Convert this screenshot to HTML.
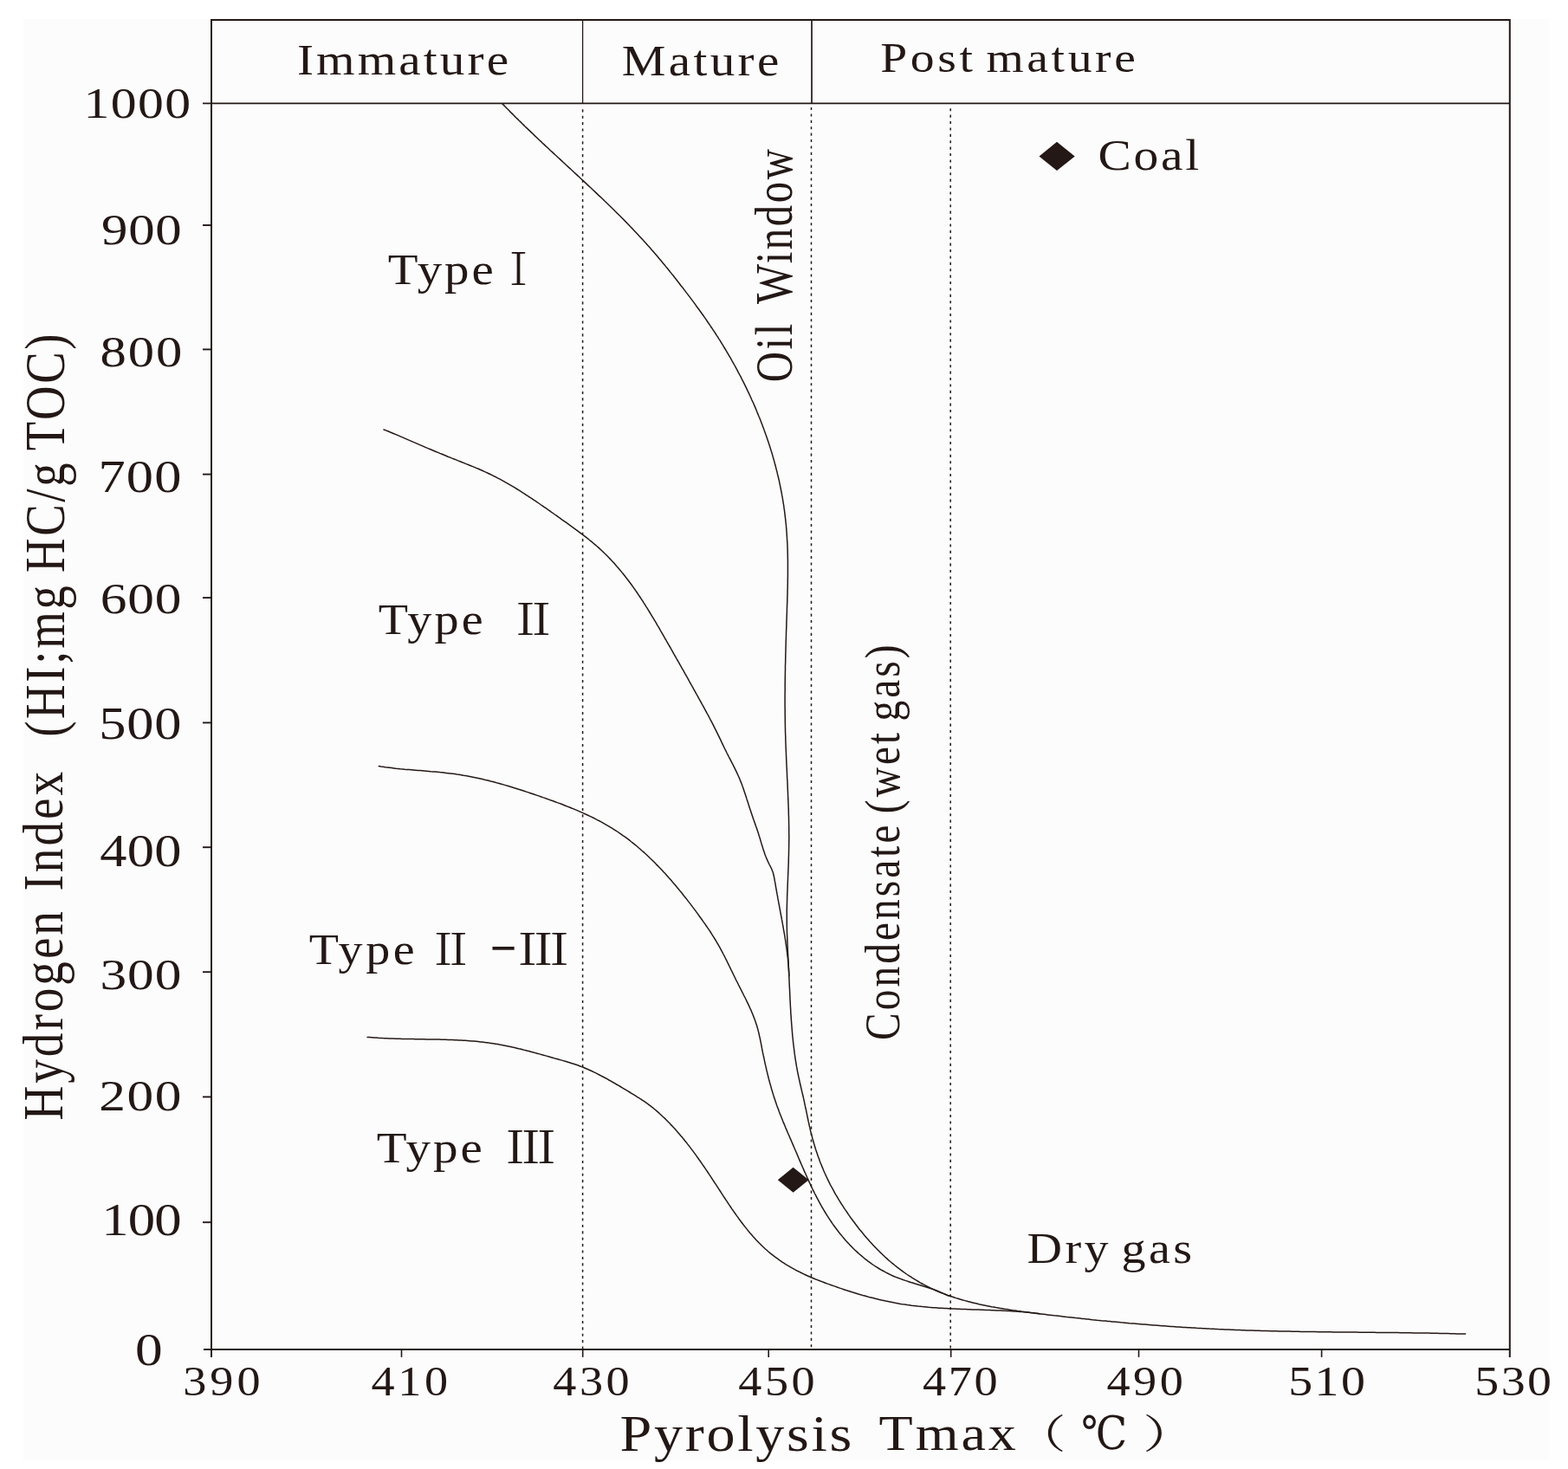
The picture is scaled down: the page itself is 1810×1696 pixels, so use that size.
<!DOCTYPE html>
<html><head><meta charset="utf-8"><title>Hydrogen Index vs Pyrolysis Tmax</title><style>html,body{margin:0;padding:0;background:#fff;overflow:hidden}svg{display:block}</style></head><body>
<svg width="1810" height="1696" viewBox="0 0 1810 1696"><rect x="0" y="0" width="1810" height="1696" fill="#ffffff"/>
<rect x="27" y="22" width="1761" height="1664" fill="#fcfcfc"/>
<rect x="1788" y="22" width="22" height="1664" fill="#fefefe"/>
<g stroke="#231815" fill="none"><path d="M244.0,23.0 H1742.8 V1566.9" stroke-width="2" fill="none"/><line x1="244.0" y1="22.0" x2="244.0" y2="1566.9" stroke-width="2"/><line x1="234.0" y1="119.4" x2="1742.8" y2="119.4" stroke-width="1.9"/><line x1="235.0" y1="1557.9" x2="1742.8" y2="1557.9" stroke-width="2"/><line x1="672.6" y1="23.0" x2="672.6" y2="119.4" stroke-width="1.3"/><line x1="937.0" y1="23.0" x2="937.0" y2="119.4" stroke-width="1.7"/><line x1="234.0" y1="260.0" x2="244.0" y2="260.0" stroke-width="1.9"/><line x1="234.0" y1="403.4" x2="244.0" y2="403.4" stroke-width="1.9"/><line x1="234.0" y1="547.6" x2="244.0" y2="547.6" stroke-width="1.9"/><line x1="234.0" y1="690.1" x2="244.0" y2="690.1" stroke-width="1.9"/><line x1="234.0" y1="834.4" x2="244.0" y2="834.4" stroke-width="1.9"/><line x1="234.0" y1="978.2" x2="244.0" y2="978.2" stroke-width="1.9"/><line x1="234.0" y1="1122.2" x2="244.0" y2="1122.2" stroke-width="1.9"/><line x1="234.0" y1="1266.4" x2="244.0" y2="1266.4" stroke-width="1.9"/><line x1="234.0" y1="1411.2" x2="244.0" y2="1411.2" stroke-width="1.9"/><line x1="463.5" y1="1557.9" x2="463.5" y2="1566.9" stroke-width="1.6"/><line x1="672.7" y1="1557.9" x2="672.7" y2="1566.9" stroke-width="1.6"/><line x1="887.2" y1="1557.9" x2="887.2" y2="1566.9" stroke-width="1.6"/><line x1="1097.7" y1="1557.9" x2="1097.7" y2="1566.9" stroke-width="1.6"/><line x1="1314.5" y1="1557.9" x2="1314.5" y2="1566.9" stroke-width="1.6"/><line x1="1525.6" y1="1557.9" x2="1525.6" y2="1566.9" stroke-width="1.6"/><line x1="672.6" y1="126.3" x2="672.6" y2="1556.9" stroke-width="1.5" stroke-dasharray="3.1 4.3"/><line x1="936.5" y1="124.0" x2="936.5" y2="1556.9" stroke-width="1.5" stroke-dasharray="3.1 4.3"/><line x1="1097.2" y1="125.2" x2="1097.2" y2="1556.9" stroke-width="1.5" stroke-dasharray="3.1 4.3"/></g>
<g stroke="#231815" stroke-width="1.5" fill="none" stroke-linejoin="round" stroke-linecap="round"><path d="M579.7,119.7 L581.5,121.4 L583.3,123.2 L585.0,125.0 L586.8,126.8 L588.5,128.6 L590.3,130.4 L592.1,132.1 L593.8,133.9 L595.6,135.7 L597.4,137.4 L599.2,139.2 L601.0,140.9 L602.8,142.7 L604.5,144.4 L606.3,146.2 L608.1,147.9 L609.9,149.6 L611.8,151.4 L613.6,153.1 L615.4,154.8 L617.2,156.6 L619.0,158.3 L620.8,160.0 L622.6,161.7 L624.5,163.4 L626.3,165.2 L628.1,166.9 L629.9,168.6 L631.8,170.3 L633.6,172.0 L635.4,173.7 L637.3,175.4 L639.1,177.1 L640.9,178.8 L642.8,180.5 L644.6,182.2 L646.5,183.9 L648.3,185.6 L650.1,187.3 L652.0,189.0 L653.8,190.7 L655.6,192.4 L657.5,194.1 L659.3,195.8 L661.2,197.5 L663.0,199.2 L664.8,200.9 L666.7,202.6 L668.5,204.3 L670.3,206.0 L672.2,207.7 L674.0,209.4 L675.8,211.1 L677.7,212.9 L679.5,214.6 L681.3,216.3 L683.2,218.0 L685.0,219.7 L686.8,221.4 L688.6,223.1 L690.4,224.9 L692.3,226.6 L694.1,228.3 L695.9,230.0 L697.7,231.8 L699.5,233.5 L701.3,235.2 L703.1,237.0 L704.9,238.7 L706.7,240.5 L708.5,242.2 L710.2,244.0 L712.0,245.7 L713.8,247.5 L715.6,249.3 L717.3,251.0 L719.1,252.8 L720.9,254.6 L722.6,256.4 L724.4,258.2 L726.1,260.0 L727.8,261.8 L729.6,263.6 L731.3,265.4 L733.0,267.2 L734.7,269.0 L736.4,270.8 L738.1,272.7 L739.8,274.5 L741.5,276.3 L743.2,278.2 L744.9,280.0 L746.6,281.9 L748.2,283.8 L749.9,285.6 L751.5,287.5 L753.2,289.4 L754.8,291.3 L756.5,293.2 L758.1,295.1 L759.7,297.0 L761.3,298.9 L762.9,300.8 L764.5,302.8 L766.1,304.7 L767.7,306.6 L769.3,308.6 L770.9,310.5 L772.5,312.5 L774.0,314.4 L775.6,316.4 L777.2,318.3 L778.7,320.3 L780.3,322.3 L781.8,324.2 L783.4,326.2 L784.9,328.2 L786.4,330.2 L788.0,332.1 L789.5,334.1 L791.0,336.1 L792.5,338.1 L794.1,340.1 L795.6,342.1 L797.1,344.1 L798.6,346.1 L800.1,348.1 L801.6,350.1 L803.0,352.1 L804.5,354.2 L806.0,356.2 L807.5,358.2 L808.9,360.2 L810.4,362.3 L811.8,364.3 L813.3,366.4 L814.7,368.4 L816.1,370.5 L817.5,372.5 L818.9,374.6 L820.3,376.7 L821.7,378.7 L823.1,380.8 L824.5,382.9 L825.9,385.0 L827.2,387.1 L828.6,389.2 L829.9,391.3 L831.3,393.4 L832.6,395.6 L833.9,397.7 L835.2,399.8 L836.5,402.0 L837.8,404.1 L839.1,406.3 L840.3,408.4 L841.6,410.6 L842.9,412.7 L844.1,414.9 L845.3,417.1 L846.6,419.3 L847.8,421.5 L849.0,423.7 L850.2,425.9 L851.4,428.1 L852.5,430.3 L853.7,432.5 L854.9,434.7 L856.0,436.9 L857.1,439.2 L858.3,441.4 L859.4,443.6 L860.5,445.9 L861.6,448.1 L862.7,450.4 L863.7,452.7 L864.8,454.9 L865.9,457.2 L866.9,459.5 L867.9,461.8 L869.0,464.0 L870.0,466.3 L871.0,468.6 L872.0,470.9 L873.0,473.2 L873.9,475.6 L874.9,477.9 L875.8,480.2 L876.8,482.5 L877.7,484.8 L878.6,487.2 L879.5,489.5 L880.4,491.9 L881.3,494.2 L882.1,496.6 L883.0,498.9 L883.8,501.3 L884.7,503.7 L885.5,506.0 L886.3,508.4 L887.1,510.8 L887.9,513.2 L888.6,515.6 L889.4,517.9 L890.1,520.3 L890.9,522.7 L891.6,525.1 L892.3,527.6 L893.0,530.0 L893.7,532.4 L894.3,534.8 L895.0,537.2 L895.6,539.6 L896.2,542.1 L896.9,544.5 L897.4,546.9 L898.0,549.4 L898.6,551.8 L899.2,554.2 L899.7,556.7 L900.2,559.1 L900.7,561.6 L901.2,564.0 L901.7,566.5 L902.2,568.9 L902.6,571.4 L903.1,573.9 L903.5,576.3 L903.9,578.8 L904.3,581.3 L904.7,583.7 L905.0,586.2 L905.4,588.7 L905.7,591.1 L906.0,593.6 L906.3,596.1 L906.6,598.6 L906.9,601.1 L907.1,603.5 L907.4,606.0 L907.6,608.5 L907.8,611.0 L908.0,613.5 L908.2,616.0 L908.3,618.5 L908.5,621.0 L908.6,623.5 L908.8,626.0 L908.9,628.5 L909.0,631.0 L909.1,633.5 L909.2,636.0 L909.2,638.5 L909.3,641.0 L909.3,643.5 L909.4,646.0 L909.4,648.5 L909.4,651.0 L909.4,653.5 L909.4,656.0 L909.4,658.5 L909.4,661.0 L909.4,663.5 L909.4,666.0 L909.3,668.5 L909.3,671.0 L909.3,673.5 L909.2,676.0 L909.2,678.5 L909.1,681.1 L909.0,683.6 L909.0,686.1 L908.9,688.6 L908.8,691.1 L908.8,693.6 L908.7,696.1 L908.6,698.6 L908.5,701.1 L908.4,703.6 L908.4,706.2 L908.3,708.7 L908.2,711.2 L908.1,713.7 L908.0,716.2 L907.9,718.7 L907.9,721.2 L907.8,723.7 L907.7,726.2 L907.6,728.7 L907.5,731.2 L907.5,733.7 L907.4,736.2 L907.3,738.7 L907.2,741.3 L907.2,743.8 L907.1,746.3 L907.0,748.8 L907.0,751.3 L906.9,753.8 L906.8,756.3 L906.8,758.8 L906.7,761.3 L906.7,763.8 L906.6,766.3 L906.5,768.8 L906.5,771.3 L906.5,773.8 L906.4,776.3 L906.4,778.8 L906.3,781.3 L906.3,783.8 L906.3,786.3 L906.2,788.8 L906.2,791.3 L906.2,793.8 L906.2,796.3 L906.2,798.8 L906.1,801.3 L906.1,803.8 L906.1,806.3 L906.1,808.8 L906.1,811.3 L906.1,813.8 L906.1,816.3 L906.2,818.8 L906.2,821.3 L906.2,823.8 L906.2,826.3 L906.3,828.8 L906.3,831.3 L906.3,833.8 L906.4,836.3 L906.4,838.8 L906.5,841.3 L906.5,843.8 L906.6,846.3 L906.7,848.8 L906.8,851.3 L906.8,853.8 L906.9,856.3 L907.0,858.8 L907.1,861.3 L907.2,863.8 L907.3,866.3 L907.4,868.8 L907.5,871.3 L907.6,873.8 L907.7,876.3 L907.8,878.8 L907.9,881.3 L908.0,883.8 L908.2,886.3 L908.3,888.8 L908.4,891.4 L908.5,893.9 L908.6,896.4 L908.7,898.9 L908.9,901.4 L909.0,903.9 L909.1,906.4 L909.2,908.9 L909.3,911.4 L909.4,913.9 L909.5,916.4 L909.6,918.9 L909.7,921.4 L909.8,923.9 L909.9,926.4 L910.0,928.9 L910.1,931.4 L910.2,933.9 L910.3,936.4 L910.3,938.9 L910.4,941.4 L910.5,943.9 L910.5,946.4 L910.6,948.9 L910.6,951.5 L910.7,954.0 L910.7,956.5 L910.7,959.0 L910.7,961.5 L910.8,964.0 L910.8,966.5 L910.8,969.0 L910.7,971.5 L910.7,974.0 L910.7,976.5 L910.6,979.0 L910.6,981.5 L910.5,984.0 L910.5,986.5 L910.4,989.0 L910.3,991.5 L910.3,994.0 L910.2,996.5 L910.1,999.0 L910.0,1001.5 L909.9,1004.0 L909.8,1006.5 L909.7,1009.0 L909.6,1011.5 L909.5,1014.0 L909.4,1016.5 L909.3,1019.0 L909.2,1021.5 L909.1,1024.0 L909.0,1026.5 L908.9,1029.0 L908.8,1031.5 L908.7,1034.0 L908.6,1036.5 L908.6,1039.0 L908.5,1041.5 L908.4,1044.0 L908.4,1046.5 L908.3,1049.0 L908.3,1051.5 L908.3,1054.0 L908.3,1056.5 L908.3,1059.0 L908.3,1061.5 L908.3,1064.0 L908.3,1066.5 L908.3,1069.0 L908.4,1071.5 L908.4,1074.0 L908.5,1076.5 L908.6,1079.0 L908.7,1081.5 L908.8,1084.0 L908.9,1086.5 L909.0,1089.0 L909.1,1091.5 L909.2,1094.0 L909.3,1096.5 L909.4,1099.0 L909.6,1101.5 L909.7,1104.0 L909.8,1106.5 L910.0,1109.0 L910.1,1111.5 L910.2,1114.0 L910.3,1116.5 L910.4,1119.0 L910.6,1121.5 L910.7,1124.0 L910.8,1126.6 L910.9,1129.1 L911.0,1131.6 L911.1,1134.1 L911.2,1136.6 L911.3,1139.1 L911.5,1141.6 L911.6,1144.1 L911.7,1146.6 L911.8,1149.1 L911.9,1151.6 L912.0,1154.1 L912.2,1156.6 L912.3,1159.1 L912.4,1161.6 L912.6,1164.1 L912.7,1166.6 L912.8,1169.1 L913.0,1171.6 L913.2,1174.1 L913.3,1176.6 L913.5,1179.1 L913.7,1181.6 L913.9,1184.1 L914.1,1186.6 L914.3,1189.1 L914.5,1191.6 L914.7,1194.1 L914.9,1196.5 L915.2,1199.0 L915.4,1201.5 L915.7,1204.0 L916.0,1206.5 L916.3,1209.0 L916.6,1211.4 L916.9,1213.9 L917.2,1216.4 L917.6,1218.9 L917.9,1221.3 L918.3,1223.8 L918.7,1226.3 L919.1,1228.7 L919.5,1231.2 L920.0,1233.6 L920.4,1236.1 L920.9,1238.6 L921.4,1241.0 L921.9,1243.5 L922.5,1245.9 L923.0,1248.3 L923.5,1250.8 L924.1,1253.2 L924.7,1255.7 L925.2,1258.1 L925.8,1260.6 L926.4,1263.0 L927.0,1265.5 L927.5,1267.9 L928.1,1270.4 L928.6,1272.8 L929.1,1275.3 L929.6,1277.7 L930.2,1280.2 L930.7,1282.6 L931.2,1285.1 L931.7,1287.6 L932.2,1290.0 L932.7,1292.5 L933.2,1294.9 L933.8,1297.4 L934.3,1299.8 L934.9,1302.3 L935.4,1304.7 L936.0,1307.1 L936.6,1309.6 L937.3,1312.0 L937.9,1314.4 L938.6,1316.8 L939.3,1319.2 L940.0,1321.6 L940.7,1324.0 L941.4,1326.4 L942.2,1328.7 L943.0,1331.1 L943.8,1333.4 L944.6,1335.8 L945.5,1338.1 L946.3,1340.5 L947.2,1342.8 L948.2,1345.1 L949.1,1347.4 L950.1,1349.7 L951.0,1352.0 L952.0,1354.3 L953.1,1356.6 L954.1,1358.8 L955.2,1361.1 L956.3,1363.3 L957.4,1365.6 L958.5,1367.8 L959.7,1370.0 L960.9,1372.2 L962.1,1374.4 L963.3,1376.6 L964.5,1378.8 L965.8,1380.9 L967.1,1383.1 L968.4,1385.3 L969.7,1387.4 L971.0,1389.5 L972.4,1391.6 L973.8,1393.8 L975.1,1395.9 L976.6,1397.9 L978.0,1400.0 L979.4,1402.1 L980.8,1404.1 L982.3,1406.2 L983.8,1408.2 L985.3,1410.2 L986.8,1412.2 L988.3,1414.2 L989.8,1416.2 L991.3,1418.2 L992.9,1420.2 L994.5,1422.1 L996.1,1424.0 L997.7,1426.0 L999.3,1427.9 L1000.9,1429.8 L1002.5,1431.6 L1004.2,1433.5 L1005.9,1435.3 L1007.6,1437.2 L1009.3,1439.0 L1011.0,1440.8 L1012.7,1442.6 L1014.5,1444.3 L1016.3,1446.1 L1018.1,1447.8 L1019.9,1449.5 L1021.7,1451.2 L1023.6,1452.9 L1025.4,1454.6 L1027.3,1456.2 L1029.2,1457.8 L1031.2,1459.4 L1033.1,1461.0 L1035.1,1462.6 L1037.1,1464.1 L1039.1,1465.6 L1041.1,1467.1 L1043.1,1468.6 L1045.1,1470.0 L1047.2,1471.5 L1049.3,1472.9 L1051.4,1474.2 L1053.5,1475.6 L1055.6,1476.9 L1057.8,1478.2 L1059.9,1479.5 L1062.1,1480.8 L1064.3,1482.0 L1066.5,1483.2 L1068.7,1484.4 L1070.9,1485.5 L1073.2,1486.6 L1075.4,1487.7 L1077.7,1488.8 L1080.0,1489.8 L1082.3,1490.8 L1084.6,1491.8 L1086.9,1492.7 L1089.2,1493.6 L1091.6,1494.5 L1093.9,1495.4 L1096.3,1496.2 L1098.7,1497.0 L1101.1,1497.8 L1103.4,1498.6 L1105.8,1499.3 L1108.2,1500.0 L1110.6,1500.7 L1113.0,1501.4 L1115.5,1502.1 L1117.9,1502.7 L1120.3,1503.3 L1122.7,1503.9 L1125.2,1504.5 L1127.6,1505.1 L1130.0,1505.7 L1132.5,1506.2 L1134.9,1506.7 L1137.4,1507.2 L1139.8,1507.7 L1142.3,1508.2 L1144.7,1508.7 L1147.2,1509.1 L1149.6,1509.6 L1152.1,1510.0 L1154.6,1510.4 L1157.0,1510.8 L1159.5,1511.3 L1162.0,1511.6 L1164.4,1512.0 L1166.9,1512.4 L1169.4,1512.8 L1171.9,1513.1 L1174.3,1513.5 L1176.8,1513.8 L1179.3,1514.2 L1181.8,1514.5 L1184.3,1514.8 L1186.8,1515.1 L1189.2,1515.5 L1191.7,1515.8 L1194.2,1516.1 L1196.7,1516.4 L1199.2,1516.7 L1201.7,1517.0 L1204.2,1517.3 L1206.7,1517.6 L1209.1,1517.9 L1211.6,1518.2 L1214.1,1518.5 L1216.6,1518.8 L1219.1,1519.0 L1221.6,1519.3 L1224.1,1519.6 L1226.6,1519.9 L1229.1,1520.2 L1231.5,1520.5 L1234.0,1520.7 L1236.5,1521.0 L1239.0,1521.3 L1241.5,1521.6 L1244.0,1521.8 L1246.5,1522.1 L1249.0,1522.4 L1251.5,1522.6 L1254.0,1522.9 L1256.5,1523.1 L1258.9,1523.4 L1261.4,1523.7 L1263.9,1523.9 L1266.4,1524.2 L1268.9,1524.4 L1271.4,1524.7 L1273.9,1524.9 L1276.4,1525.1 L1278.9,1525.4 L1281.4,1525.6 L1283.9,1525.9 L1286.4,1526.1 L1288.9,1526.3 L1291.3,1526.5 L1293.8,1526.8 L1296.3,1527.0 L1298.8,1527.2 L1301.3,1527.4 L1303.8,1527.7 L1306.3,1527.9 L1308.8,1528.1 L1311.3,1528.3 L1313.8,1528.5 L1316.3,1528.7 L1318.8,1528.9 L1321.3,1529.1 L1323.8,1529.3 L1326.3,1529.5 L1328.8,1529.7 L1331.3,1529.9 L1333.8,1530.1 L1336.3,1530.3 L1338.8,1530.5 L1341.2,1530.7 L1343.7,1530.8 L1346.2,1531.0 L1348.7,1531.2 L1351.2,1531.4 L1353.7,1531.5 L1356.2,1531.7 L1358.7,1531.9 L1361.2,1532.0 L1363.7,1532.2 L1366.2,1532.4 L1368.7,1532.5 L1371.2,1532.7 L1373.7,1532.8 L1376.2,1533.0 L1378.7,1533.1 L1381.2,1533.3 L1383.7,1533.4 L1386.2,1533.5 L1388.7,1533.7 L1391.2,1533.8 L1393.7,1533.9 L1396.2,1534.1 L1398.7,1534.2 L1401.2,1534.3 L1403.7,1534.4 L1406.2,1534.6 L1408.7,1534.7 L1411.2,1534.8 L1413.7,1534.9 L1416.2,1535.0 L1418.7,1535.1 L1421.2,1535.2 L1423.7,1535.3 L1426.2,1535.4 L1428.7,1535.5 L1431.2,1535.6 L1433.7,1535.7 L1436.2,1535.8 L1438.7,1535.9 L1441.2,1535.9 L1443.7,1536.0 L1446.2,1536.1 L1448.7,1536.2 L1451.2,1536.3 L1453.7,1536.3 L1456.2,1536.4 L1458.7,1536.5 L1461.2,1536.5 L1463.7,1536.6 L1466.3,1536.7 L1468.8,1536.7 L1471.3,1536.8 L1473.8,1536.8 L1476.3,1536.9 L1478.8,1536.9 L1481.3,1537.0 L1483.8,1537.0 L1486.3,1537.1 L1488.8,1537.1 L1491.3,1537.2 L1493.8,1537.2 L1496.3,1537.3 L1498.8,1537.3 L1501.3,1537.4 L1503.8,1537.4 L1506.3,1537.4 L1508.8,1537.5 L1511.3,1537.5 L1513.8,1537.6 L1516.3,1537.6 L1518.8,1537.6 L1521.3,1537.7 L1523.8,1537.7 L1526.3,1537.7 L1528.9,1537.7 L1531.4,1537.8 L1533.9,1537.8 L1536.4,1537.8 L1538.9,1537.9 L1541.4,1537.9 L1543.9,1537.9 L1546.4,1537.9 L1548.9,1538.0 L1551.4,1538.0 L1553.9,1538.0 L1556.4,1538.0 L1558.9,1538.1 L1561.4,1538.1 L1563.9,1538.1 L1566.4,1538.1 L1568.9,1538.2 L1571.4,1538.2 L1573.9,1538.2 L1576.4,1538.2 L1578.9,1538.3 L1581.5,1538.3 L1584.0,1538.3 L1586.5,1538.3 L1589.0,1538.4 L1591.5,1538.4 L1594.0,1538.4 L1596.5,1538.4 L1599.0,1538.5 L1601.5,1538.5 L1604.0,1538.5 L1606.5,1538.5 L1609.0,1538.6 L1611.5,1538.6 L1614.0,1538.6 L1616.5,1538.7 L1619.0,1538.7 L1621.5,1538.7 L1624.0,1538.8 L1626.5,1538.8 L1629.0,1538.8 L1631.5,1538.9 L1634.0,1538.9 L1636.5,1538.9 L1639.0,1539.0 L1641.6,1539.0 L1644.1,1539.1 L1646.6,1539.1 L1649.1,1539.1 L1651.6,1539.2 L1654.1,1539.2 L1656.6,1539.3 L1659.1,1539.3 L1661.6,1539.4 L1664.1,1539.4 L1666.6,1539.5 L1669.1,1539.5 L1671.6,1539.6 L1674.1,1539.7 L1676.6,1539.7 L1679.1,1539.8 L1681.6,1539.9 L1684.1,1539.9 L1686.6,1540.0 L1689.1,1540.1 L1691.6,1540.1"/><path d="M443.0,496.0 L445.3,496.9 L447.7,497.8 L450.0,498.8 L452.3,499.7 L454.7,500.7 L457.0,501.6 L459.3,502.6 L461.6,503.6 L463.9,504.6 L466.2,505.6 L468.5,506.6 L470.8,507.6 L473.1,508.6 L475.4,509.6 L477.7,510.6 L480.1,511.6 L482.4,512.6 L484.7,513.6 L487.0,514.6 L489.3,515.6 L491.6,516.6 L493.9,517.6 L496.2,518.5 L498.5,519.5 L500.9,520.5 L503.2,521.5 L505.5,522.4 L507.8,523.4 L510.1,524.3 L512.5,525.3 L514.8,526.2 L517.1,527.2 L519.5,528.1 L521.8,529.1 L524.1,530.0 L526.5,530.9 L528.8,531.9 L531.1,532.8 L533.5,533.7 L535.8,534.6 L538.1,535.6 L540.5,536.5 L542.8,537.5 L545.1,538.4 L547.5,539.4 L549.8,540.4 L552.1,541.3 L554.4,542.3 L556.7,543.3 L559.0,544.4 L561.3,545.4 L563.6,546.5 L565.8,547.5 L568.1,548.6 L570.3,549.8 L572.6,550.9 L574.8,552.1 L577.0,553.2 L579.2,554.4 L581.4,555.6 L583.6,556.9 L585.8,558.1 L588.0,559.4 L590.2,560.6 L592.3,561.9 L594.5,563.2 L596.6,564.5 L598.8,565.9 L600.9,567.2 L603.0,568.6 L605.1,569.9 L607.2,571.3 L609.3,572.7 L611.4,574.0 L613.5,575.4 L615.6,576.8 L617.7,578.2 L619.8,579.6 L621.9,581.0 L623.9,582.5 L626.0,583.9 L628.1,585.3 L630.1,586.7 L632.2,588.2 L634.3,589.6 L636.3,591.1 L638.4,592.5 L640.4,594.0 L642.5,595.4 L644.5,596.9 L646.6,598.3 L648.6,599.8 L650.7,601.3 L652.7,602.7 L654.8,604.2 L656.8,605.6 L658.8,607.1 L660.9,608.6 L662.9,610.1 L665.0,611.6 L667.0,613.1 L669.0,614.6 L671.0,616.1 L673.0,617.6 L675.0,619.1 L677.0,620.7 L679.0,622.2 L680.9,623.8 L682.9,625.4 L684.8,627.0 L686.7,628.6 L688.6,630.3 L690.5,631.9 L692.4,633.6 L694.2,635.3 L696.0,637.0 L697.8,638.8 L699.6,640.5 L701.4,642.3 L703.1,644.1 L704.9,645.9 L706.6,647.8 L708.3,649.6 L710.0,651.5 L711.6,653.4 L713.3,655.3 L714.9,657.2 L716.5,659.1 L718.1,661.1 L719.7,663.0 L721.3,665.0 L722.8,667.0 L724.4,669.0 L725.9,671.0 L727.4,673.0 L728.9,675.0 L730.4,677.1 L731.8,679.1 L733.3,681.2 L734.7,683.3 L736.1,685.3 L737.5,687.4 L738.9,689.5 L740.3,691.6 L741.7,693.7 L743.0,695.8 L744.4,697.9 L745.7,700.1 L747.1,702.2 L748.4,704.3 L749.7,706.5 L751.0,708.6 L752.3,710.8 L753.6,712.9 L754.9,715.1 L756.2,717.2 L757.5,719.4 L758.7,721.6 L760.0,723.7 L761.3,725.9 L762.5,728.1 L763.8,730.3 L765.0,732.4 L766.3,734.6 L767.5,736.8 L768.8,739.0 L770.0,741.2 L771.3,743.3 L772.5,745.5 L773.8,747.7 L775.0,749.9 L776.3,752.1 L777.5,754.3 L778.7,756.5 L780.0,758.6 L781.2,760.8 L782.5,763.0 L783.7,765.2 L784.9,767.4 L786.2,769.6 L787.4,771.8 L788.7,773.9 L789.9,776.1 L791.1,778.3 L792.4,780.5 L793.6,782.7 L794.8,784.9 L796.0,787.1 L797.3,789.3 L798.5,791.5 L799.7,793.7 L800.9,795.9 L802.2,798.1 L803.4,800.3 L804.6,802.5 L805.8,804.7 L807.0,806.9 L808.3,809.1 L809.5,811.3 L810.7,813.5 L811.9,815.7 L813.1,817.9 L814.3,820.1 L815.5,822.3 L816.7,824.5 L817.9,826.7 L819.1,829.0 L820.2,831.2 L821.4,833.4 L822.6,835.6 L823.7,837.9 L824.8,840.1 L826.0,842.4 L827.1,844.6 L828.2,846.9 L829.3,849.1 L830.4,851.4 L831.5,853.6 L832.6,855.9 L833.6,858.2 L834.7,860.4 L835.8,862.7 L836.9,865.0 L838.0,867.2 L839.1,869.5 L840.3,871.7 L841.4,874.0 L842.6,876.2 L843.7,878.4 L844.9,880.7 L846.1,882.9 L847.2,885.1 L848.3,887.4 L849.4,889.6 L850.5,891.9 L851.6,894.2 L852.6,896.5 L853.6,898.8 L854.5,901.1 L855.5,903.4 L856.4,905.8 L857.2,908.1 L858.1,910.5 L858.9,912.9 L859.7,915.3 L860.5,917.7 L861.3,920.1 L862.0,922.4 L862.8,924.8 L863.6,927.2 L864.3,929.6 L865.1,932.0 L865.9,934.4 L866.7,936.8 L867.5,939.2 L868.3,941.6 L869.1,944.0 L869.9,946.3 L870.8,948.7 L871.6,951.1 L872.4,953.5 L873.3,955.8 L874.1,958.2 L874.9,960.6 L875.7,963.0 L876.4,965.4 L877.2,967.8 L877.9,970.2 L878.6,972.6 L879.3,975.0 L880.1,977.4 L880.8,979.8 L881.6,982.2 L882.4,984.6 L883.2,987.0 L884.1,989.3 L885.1,991.6 L886.1,993.9 L887.2,996.2 L888.3,998.5 L889.5,1000.7 L890.6,1003.0 L891.5,1005.3 L892.4,1007.6 L893.0,1010.0 L893.5,1012.5 L894.0,1014.9 L894.4,1017.4 L894.9,1019.9 L895.3,1022.3 L895.7,1024.8 L896.2,1027.3 L896.6,1029.8 L897.0,1032.2 L897.5,1034.7 L897.9,1037.2 L898.4,1039.7 L898.8,1042.1 L899.3,1044.6 L899.8,1047.1 L900.2,1049.5 L900.7,1052.0 L901.1,1054.5 L901.6,1057.0 L902.1,1059.4 L902.5,1061.9 L903.0,1064.4 L903.4,1066.9 L903.9,1069.3 L904.3,1071.8 L904.7,1074.3 L905.2,1076.8 L905.6,1079.2 L906.0,1081.7 L906.4,1084.2 L906.8,1086.7 L907.1,1089.2 L907.5,1091.7 L907.9,1094.1 L908.2,1096.6 L908.5,1099.1 L908.8,1101.6 L909.1,1104.1 L909.4,1106.6 L909.6,1109.1 L909.9,1111.6 L910.1,1114.1 L910.3,1116.6 L910.5,1119.1 L910.6,1121.6 L910.7,1124.2 L910.8,1126.7"/><path d="M437.3,884.6 L439.8,885.0 L442.2,885.3 L444.7,885.7 L447.2,886.0 L449.7,886.3 L452.1,886.6 L454.6,886.9 L457.1,887.2 L459.6,887.4 L462.1,887.7 L464.6,887.9 L467.1,888.2 L469.6,888.4 L472.2,888.6 L474.7,888.8 L477.2,889.0 L479.7,889.2 L482.2,889.4 L484.7,889.6 L487.3,889.8 L489.8,890.0 L492.3,890.2 L494.8,890.4 L497.3,890.7 L499.9,890.9 L502.4,891.1 L504.9,891.3 L507.4,891.6 L509.9,891.8 L512.4,892.1 L514.9,892.4 L517.4,892.7 L519.9,893.0 L522.4,893.3 L524.9,893.6 L527.4,894.0 L529.9,894.3 L532.4,894.7 L534.9,895.2 L537.3,895.6 L539.8,896.0 L542.2,896.5 L544.7,897.0 L547.2,897.5 L549.6,898.0 L552.0,898.5 L554.5,899.0 L556.9,899.6 L559.4,900.2 L561.8,900.7 L564.2,901.3 L566.6,902.0 L569.1,902.6 L571.5,903.2 L573.9,903.9 L576.3,904.5 L578.7,905.2 L581.1,905.9 L583.5,906.6 L585.9,907.3 L588.3,908.0 L590.7,908.7 L593.1,909.5 L595.5,910.2 L597.9,911.0 L600.3,911.7 L602.7,912.5 L605.1,913.3 L607.5,914.1 L609.9,914.9 L612.3,915.7 L614.7,916.5 L617.0,917.3 L619.4,918.1 L621.8,918.9 L624.2,919.7 L626.6,920.6 L629.0,921.4 L631.3,922.3 L633.7,923.1 L636.1,924.0 L638.5,924.8 L640.9,925.7 L643.2,926.6 L645.6,927.4 L648.0,928.3 L650.3,929.2 L652.7,930.2 L655.0,931.1 L657.4,932.0 L659.7,933.0 L662.1,933.9 L664.4,934.9 L666.7,935.9 L669.0,936.9 L671.3,937.9 L673.6,938.9 L675.9,940.0 L678.2,941.0 L680.5,942.1 L682.7,943.2 L685.0,944.3 L687.2,945.4 L689.4,946.6 L691.7,947.7 L693.9,948.9 L696.1,950.1 L698.2,951.3 L700.4,952.6 L702.6,953.8 L704.7,955.1 L706.8,956.4 L709.0,957.8 L711.1,959.1 L713.2,960.5 L715.2,961.9 L717.3,963.3 L719.3,964.8 L721.4,966.2 L723.4,967.7 L725.4,969.2 L727.4,970.7 L729.3,972.3 L731.3,973.9 L733.2,975.4 L735.2,977.0 L737.1,978.7 L739.0,980.3 L740.9,982.0 L742.8,983.6 L744.6,985.3 L746.5,987.0 L748.3,988.7 L750.1,990.5 L752.0,992.2 L753.8,994.0 L755.6,995.8 L757.3,997.6 L759.1,999.4 L760.9,1001.2 L762.6,1003.0 L764.3,1004.8 L766.0,1006.7 L767.8,1008.5 L769.5,1010.4 L771.1,1012.3 L772.8,1014.2 L774.5,1016.1 L776.1,1018.0 L777.8,1019.9 L779.4,1021.8 L781.0,1023.8 L782.6,1025.7 L784.2,1027.6 L785.8,1029.6 L787.4,1031.5 L788.9,1033.5 L790.5,1035.5 L792.1,1037.4 L793.6,1039.4 L795.1,1041.4 L796.7,1043.4 L798.2,1045.4 L799.7,1047.4 L801.2,1049.4 L802.7,1051.4 L804.2,1053.4 L805.7,1055.4 L807.1,1057.5 L808.6,1059.5 L810.1,1061.5 L811.5,1063.6 L813.0,1065.6 L814.4,1067.7 L815.9,1069.8 L817.3,1071.9 L818.7,1073.9 L820.1,1076.0 L821.4,1078.1 L822.8,1080.3 L824.1,1082.4 L825.4,1084.5 L826.7,1086.7 L828.0,1088.8 L829.3,1091.0 L830.5,1093.2 L831.7,1095.4 L832.9,1097.6 L834.1,1099.8 L835.2,1102.0 L836.4,1104.2 L837.5,1106.5 L838.6,1108.7 L839.7,1111.0 L840.8,1113.2 L841.9,1115.5 L843.0,1117.7 L844.1,1120.0 L845.2,1122.2 L846.3,1124.5 L847.4,1126.8 L848.5,1129.0 L849.6,1131.3 L850.8,1133.5 L851.9,1135.8 L853.0,1138.0 L854.2,1140.3 L855.3,1142.5 L856.5,1144.8 L857.6,1147.0 L858.7,1149.3 L859.9,1151.5 L861.0,1153.8 L862.1,1156.1 L863.2,1158.3 L864.3,1160.6 L865.3,1162.9 L866.4,1165.2 L867.4,1167.4 L868.3,1169.7 L869.3,1172.1 L870.2,1174.4 L871.1,1176.7 L871.9,1179.1 L872.7,1181.4 L873.5,1183.8 L874.2,1186.2 L874.9,1188.6 L875.5,1191.1 L876.1,1193.5 L876.6,1196.0 L877.2,1198.4 L877.7,1200.9 L878.2,1203.4 L878.7,1205.9 L879.2,1208.3 L879.6,1210.8 L880.1,1213.3 L880.6,1215.8 L881.1,1218.2 L881.7,1220.7 L882.2,1223.2 L882.7,1225.7 L883.2,1228.1 L883.8,1230.6 L884.4,1233.0 L884.9,1235.5 L885.5,1237.9 L886.1,1240.4 L886.7,1242.8 L887.3,1245.2 L888.0,1247.7 L888.6,1250.1 L889.3,1252.5 L890.0,1254.9 L890.6,1257.3 L891.4,1259.7 L892.1,1262.1 L892.8,1264.5 L893.6,1266.9 L894.4,1269.3 L895.2,1271.7 L896.0,1274.0 L896.8,1276.4 L897.7,1278.8 L898.6,1281.1 L899.4,1283.5 L900.3,1285.8 L901.2,1288.1 L902.2,1290.5 L903.1,1292.8 L904.0,1295.1 L905.0,1297.4 L906.0,1299.8 L906.9,1302.1 L907.9,1304.4 L908.9,1306.7 L909.9,1309.0 L910.9,1311.3 L911.9,1313.6 L912.9,1315.9 L913.9,1318.2 L914.9,1320.6 L915.9,1322.9 L916.9,1325.2 L917.9,1327.5 L918.9,1329.8 L919.9,1332.1 L920.8,1334.4 L921.8,1336.7 L922.8,1339.1 L923.8,1341.4 L924.8,1343.7 L925.8,1346.0 L926.8,1348.3 L927.8,1350.6 L928.8,1352.9 L929.9,1355.2 L930.9,1357.5 L931.9,1359.8 L933.0,1362.1 L934.0,1364.4 L935.1,1366.7 L936.1,1368.9 L937.2,1371.2 L938.3,1373.5 L939.4,1375.7 L940.5,1378.0 L941.7,1380.2 L942.8,1382.4 L944.0,1384.7 L945.2,1386.9 L946.4,1389.1 L947.6,1391.3 L948.8,1393.5 L950.1,1395.6 L951.4,1397.8 L952.7,1400.0 L954.0,1402.1 L955.3,1404.2 L956.7,1406.3 L958.1,1408.4 L959.5,1410.5 L960.9,1412.6 L962.4,1414.7 L963.9,1416.7 L965.4,1418.7 L966.9,1420.7 L968.4,1422.7 L970.0,1424.7 L971.6,1426.6 L973.2,1428.6 L974.8,1430.5 L976.5,1432.4 L978.2,1434.2 L979.9,1436.1 L981.6,1437.9 L983.4,1439.7 L985.1,1441.5 L986.9,1443.2 L988.8,1444.9 L990.6,1446.6 L992.5,1448.3 L994.4,1449.9 L996.3,1451.5 L998.2,1453.1 L1000.2,1454.6 L1002.1,1456.1 L1004.2,1457.6 L1006.2,1459.1 L1008.2,1460.5 L1010.3,1461.9 L1012.4,1463.2 L1014.5,1464.5 L1016.7,1465.8 L1018.8,1467.0 L1021.0,1468.2 L1023.2,1469.4 L1025.5,1470.5 L1027.7,1471.6 L1030.0,1472.7 L1032.3,1473.7 L1034.6,1474.6 L1037.0,1475.5 L1039.4,1476.4 L1041.7,1477.3 L1044.1,1478.1 L1046.6,1478.9 L1049.0,1479.7 L1051.4,1480.5 L1053.9,1481.2 L1056.3,1482.0 L1058.7,1482.7 L1061.2,1483.5 L1063.6,1484.2 L1066.1,1485.0 L1068.5,1485.7 L1070.9,1486.5 L1073.3,1487.3 L1075.7,1488.1 L1078.1,1488.9 L1080.4,1489.8 L1082.7,1490.7 L1085.0,1491.7 L1087.3,1492.6 L1089.6,1493.6 L1091.8,1494.6 L1094.1,1495.7 L1096.6,1496.3"/><path d="M424.1,1197.4 L426.6,1197.6 L429.1,1197.8 L431.6,1198.0 L434.1,1198.1 L436.6,1198.3 L439.1,1198.4 L441.6,1198.6 L444.1,1198.7 L446.6,1198.8 L449.1,1198.9 L451.6,1199.0 L454.2,1199.1 L456.7,1199.2 L459.2,1199.3 L461.7,1199.3 L464.2,1199.4 L466.7,1199.5 L469.2,1199.5 L471.8,1199.6 L474.3,1199.6 L476.8,1199.6 L479.3,1199.7 L481.8,1199.7 L484.3,1199.7 L486.9,1199.8 L489.4,1199.8 L491.9,1199.9 L494.4,1199.9 L496.9,1199.9 L499.4,1200.0 L502.0,1200.0 L504.5,1200.1 L507.0,1200.1 L509.5,1200.2 L512.0,1200.2 L514.5,1200.3 L517.1,1200.4 L519.6,1200.5 L522.1,1200.6 L524.6,1200.7 L527.1,1200.8 L529.6,1200.9 L532.1,1201.0 L534.6,1201.2 L537.1,1201.3 L539.6,1201.5 L542.1,1201.7 L544.6,1201.9 L547.1,1202.1 L549.6,1202.3 L552.1,1202.6 L554.6,1202.9 L557.1,1203.1 L559.6,1203.4 L562.1,1203.7 L564.5,1204.1 L567.0,1204.4 L569.5,1204.8 L572.0,1205.2 L574.4,1205.6 L576.9,1206.1 L579.4,1206.5 L581.8,1207.0 L584.3,1207.5 L586.8,1208.0 L589.2,1208.5 L591.7,1209.1 L594.1,1209.6 L596.6,1210.2 L599.0,1210.8 L601.5,1211.3 L603.9,1211.9 L606.4,1212.6 L608.8,1213.2 L611.2,1213.8 L613.7,1214.5 L616.1,1215.1 L618.5,1215.8 L621.0,1216.4 L623.4,1217.1 L625.8,1217.8 L628.3,1218.4 L630.7,1219.1 L633.1,1219.8 L635.5,1220.5 L638.0,1221.2 L640.4,1221.9 L642.8,1222.5 L645.2,1223.2 L647.7,1223.9 L650.1,1224.6 L652.5,1225.3 L654.9,1226.0 L657.3,1226.7 L659.7,1227.5 L662.1,1228.2 L664.4,1229.0 L666.8,1229.8 L669.1,1230.7 L671.5,1231.6 L673.8,1232.5 L676.1,1233.5 L678.4,1234.5 L680.7,1235.5 L682.9,1236.5 L685.2,1237.6 L687.4,1238.7 L689.7,1239.9 L691.9,1241.0 L694.1,1242.2 L696.4,1243.3 L698.6,1244.5 L700.8,1245.7 L703.0,1247.0 L705.2,1248.2 L707.4,1249.5 L709.6,1250.7 L711.7,1252.0 L713.9,1253.2 L716.1,1254.5 L718.3,1255.8 L720.4,1257.1 L722.6,1258.4 L724.7,1259.7 L726.9,1261.0 L729.0,1262.3 L731.2,1263.6 L733.3,1264.9 L735.4,1266.3 L737.6,1267.6 L739.7,1269.0 L741.8,1270.3 L743.8,1271.7 L745.9,1273.2 L747.9,1274.6 L749.9,1276.1 L751.9,1277.7 L753.9,1279.2 L755.8,1280.8 L757.7,1282.4 L759.7,1284.1 L761.5,1285.8 L763.4,1287.5 L765.2,1289.2 L767.1,1290.9 L768.9,1292.7 L770.6,1294.5 L772.4,1296.3 L774.1,1298.1 L775.9,1299.9 L777.6,1301.8 L779.3,1303.6 L780.9,1305.5 L782.6,1307.4 L784.2,1309.3 L785.8,1311.2 L787.5,1313.1 L789.0,1315.0 L790.6,1317.0 L792.2,1318.9 L793.7,1320.9 L795.3,1322.9 L796.8,1324.9 L798.3,1326.9 L799.8,1328.9 L801.3,1330.9 L802.8,1332.9 L804.2,1334.9 L805.7,1337.0 L807.1,1339.0 L808.6,1341.0 L810.0,1343.1 L811.4,1345.2 L812.9,1347.2 L814.3,1349.3 L815.7,1351.4 L817.1,1353.5 L818.5,1355.6 L819.9,1357.7 L821.3,1359.8 L822.6,1361.9 L824.0,1364.0 L825.4,1366.1 L826.8,1368.2 L828.2,1370.3 L829.5,1372.4 L830.9,1374.5 L832.3,1376.6 L833.7,1378.8 L835.0,1380.9 L836.4,1383.0 L837.8,1385.1 L839.2,1387.2 L840.6,1389.3 L842.0,1391.4 L843.4,1393.5 L844.8,1395.6 L846.3,1397.7 L847.7,1399.8 L849.2,1401.8 L850.6,1403.9 L852.1,1405.9 L853.6,1408.0 L855.1,1410.0 L856.6,1412.0 L858.1,1414.0 L859.6,1415.9 L861.2,1417.9 L862.8,1419.9 L864.3,1421.8 L865.9,1423.7 L867.6,1425.6 L869.2,1427.5 L870.9,1429.3 L872.6,1431.2 L874.3,1433.0 L876.0,1434.8 L877.8,1436.5 L879.5,1438.3 L881.4,1440.0 L883.2,1441.7 L885.0,1443.3 L886.9,1445.0 L888.8,1446.6 L890.8,1448.2 L892.7,1449.7 L894.7,1451.2 L896.8,1452.7 L898.8,1454.2 L900.9,1455.6 L903.0,1457.1 L905.1,1458.4 L907.2,1459.8 L909.4,1461.1 L911.6,1462.4 L913.7,1463.6 L916.0,1464.9 L918.2,1466.1 L920.4,1467.3 L922.7,1468.4 L924.9,1469.5 L927.2,1470.6 L929.5,1471.7 L931.7,1472.7 L934.0,1473.7 L936.3,1474.7 L938.7,1475.7 L941.0,1476.7 L943.3,1477.6 L945.7,1478.5 L948.0,1479.4 L950.3,1480.3 L952.7,1481.2 L955.1,1482.1 L957.4,1482.9 L959.8,1483.8 L962.2,1484.6 L964.5,1485.4 L966.9,1486.3 L969.3,1487.1 L971.7,1487.9 L974.0,1488.7 L976.4,1489.5 L978.8,1490.2 L981.2,1491.0 L983.6,1491.8 L986.0,1492.5 L988.4,1493.2 L990.8,1494.0 L993.2,1494.7 L995.7,1495.4 L998.1,1496.0 L1000.5,1496.7 L1002.9,1497.4 L1005.3,1498.0 L1007.8,1498.6 L1010.2,1499.2 L1012.6,1499.8 L1015.1,1500.4 L1017.5,1501.0 L1020.0,1501.5 L1022.4,1502.1 L1024.9,1502.6 L1027.3,1503.1 L1029.8,1503.6 L1032.3,1504.1 L1034.7,1504.5 L1037.2,1504.9 L1039.7,1505.4 L1042.1,1505.8 L1044.6,1506.1 L1047.1,1506.5 L1049.6,1506.8 L1052.1,1507.2 L1054.6,1507.5 L1057.1,1507.8 L1059.6,1508.1 L1062.1,1508.3 L1064.6,1508.6 L1067.1,1508.8 L1069.6,1509.0 L1072.1,1509.3 L1074.6,1509.5 L1077.1,1509.7 L1079.6,1509.8 L1082.1,1510.0 L1084.6,1510.2 L1087.2,1510.3 L1089.7,1510.5 L1092.2,1510.6 L1094.7,1510.7 L1097.2,1510.9 L1099.7,1511.0 L1102.2,1511.1 L1104.7,1511.2 L1107.3,1511.3 L1109.8,1511.4 L1112.3,1511.5 L1114.8,1511.6 L1117.3,1511.7 L1119.8,1511.8 L1122.3,1511.9 L1124.8,1512.0 L1127.3,1512.0 L1129.9,1512.1 L1132.4,1512.2 L1134.9,1512.3 L1137.4,1512.4 L1139.9,1512.5 L1142.4,1512.6 L1144.9,1512.7 L1147.4,1512.8 L1149.9,1512.9 L1152.4,1513.0 L1154.9,1513.1 L1157.4,1513.2 L1159.9,1513.3 L1162.4,1513.5 L1165.0,1513.6 L1167.5,1513.8 L1170.0,1513.9 L1172.5,1514.1 L1175.0,1514.3 L1177.5,1514.4 L1180.0,1514.6 L1182.5,1514.8 L1185.0,1515.1 L1187.5,1515.3 L1190.0,1515.5 L1192.5,1515.8 L1195.0,1516.1 L1197.5,1516.3 L1200.0,1516.8"/></g>
<path d="M1199.5,180.4 L1220,163.7 L1240.7,180.4 L1220,197 Z" fill="#231815"/>
<path d="M897.8,1362.3 L915.6,1347.8 L933.6,1362.3 L915.6,1376.8 Z" fill="#231815"/>
<g fill="#231815"><text transform="matrix(1.12 0 0 1 342.8978 85.7)" font-family="'Liberation Serif', serif" style="font-size:51.08px;letter-spacing:2.78px">Immature</text><text transform="matrix(1.12 0 0 1 717.789 87)" font-family="'Liberation Serif', serif" style="font-size:50.92px;letter-spacing:3.00px">Mature</text><text transform="matrix(1.12 0 0 1 1016.2328 82.9)" font-family="'Liberation Serif', serif" style="font-size:49.62px;letter-spacing:3.23px;word-spacing:-4.90px">Post mature</text><text transform="matrix(1.12 0 0 1 1267.5016 196.4)" font-family="'Liberation Serif', serif" style="font-size:51.30px;letter-spacing:2.45px">Coal</text><text transform="matrix(1.12 0 0 1 1185.5174 1458)" font-family="'Liberation Serif', serif" style="font-size:50.08px;letter-spacing:3.08px;word-spacing:-5.40px">Dry gas</text><text transform="matrix(1.12 0 0 1 447.8628 327.9)" font-family="'Liberation Serif', serif" style="font-size:50.77px;letter-spacing:2.70px">Type</text><text transform="matrix(0.8626 0 0 1 576.4 328.9)" font-family="'Liberation Serif', 'Noto Serif CJK SC', serif" style="font-size:51.01px">Ⅰ</text><text transform="matrix(1.12 0 0 1 436.7766 732)" font-family="'Liberation Serif', serif" style="font-size:50.15px;letter-spacing:2.82px">Type</text><text transform="matrix(1.1149 0 0 1 587.6661 733.2)" font-family="'Liberation Serif', 'Noto Serif CJK SC', serif" style="font-size:50.20px">Ⅱ</text><text transform="matrix(1.12 0 0 1 356.68 1113.2)" font-family="'Liberation Serif', serif" style="font-size:50.00px;letter-spacing:3.22px">Type</text><text transform="matrix(1.0779 0 0 1 493.8565 1114.1)" font-family="'Liberation Serif', 'Noto Serif CJK SC', serif" style="font-size:49.53px">Ⅱ</text><text transform="matrix(0.7131 0 0 1 565.6903 1119.98)" font-family="'Liberation Serif', serif" style="font-size:76.00px">−</text><text transform="matrix(1.1912 0 0 1 597.65 1114.1)" font-family="'Liberation Serif', 'Noto Serif CJK SC', serif" style="font-size:49.53px">Ⅲ</text><text transform="matrix(1.12 0 0 1 434.7593 1342)" font-family="'Liberation Serif', serif" style="font-size:50.92px;letter-spacing:2.66px">Type</text><text transform="matrix(1.1462 0 0 1 583.7 1342.9)" font-family="'Liberation Serif', 'Noto Serif CJK SC', serif" style="font-size:50.60px">Ⅲ</text><text transform="matrix(1.2 0 0 1 96.524 135.9022)" font-family="'Liberation Serif', serif" style="font-size:49.78px;letter-spacing:1.14px">1000</text><text transform="matrix(1.2 0 0 1 117.076 281.9933)" font-family="'Liberation Serif', serif" style="font-size:50.67px;letter-spacing:0.61px">900</text><text transform="matrix(1.2 0 0 1 115.5751 423.3948)" font-family="'Liberation Serif', serif" style="font-size:50.52px;letter-spacing:1.63px">800</text><text transform="matrix(1.2 0 0 1 113.544 567.58)" font-family="'Liberation Serif', serif" style="font-size:52.00px;letter-spacing:0.94px">700</text><text transform="matrix(1.2 0 0 1 115.74 708.3889)" font-family="'Liberation Serif', serif" style="font-size:51.11px;letter-spacing:0.67px">600</text><text transform="matrix(1.2 0 0 1 114.256 853.38)" font-family="'Liberation Serif', serif" style="font-size:52.00px;letter-spacing:0.68px">500</text><text transform="matrix(1.2 0 0 1 115.152 999.58)" font-family="'Liberation Serif', serif" style="font-size:52.00px;letter-spacing:0.27px">400</text><text transform="matrix(1.2 0 0 1 115.4333 1142.3889)" font-family="'Liberation Serif', serif" style="font-size:51.11px;letter-spacing:0.84px">300</text><text transform="matrix(1.2 0 0 1 114.24 1282.3889)" font-family="'Liberation Serif', serif" style="font-size:51.11px;letter-spacing:1.34px">200</text><text transform="matrix(1.2 0 0 1 117.152 1426.477)" font-family="'Liberation Serif', serif" style="font-size:52.30px;letter-spacing:-0.66px">100</text><text transform="matrix(1.1975 0 0 1 156.0667 1576.3711)" font-family="'Liberation Serif', serif" style="font-size:52.89px">0</text><text transform="matrix(1.13 0 0 1 211.188 1610.52)" font-family="'Liberation Serif', serif" style="font-size:48.00px;letter-spacing:3.55px">390</text><text transform="matrix(1.13 0 0 1 428.5152 1610.52)" font-family="'Liberation Serif', serif" style="font-size:48.00px;letter-spacing:3.23px">410</text><text transform="matrix(1.13 0 0 1 638.3152 1610.52)" font-family="'Liberation Serif', serif" style="font-size:48.00px;letter-spacing:3.05px">430</text><text transform="matrix(1.13 0 0 1 852.3152 1610.52)" font-family="'Liberation Serif', serif" style="font-size:48.00px;letter-spacing:3.09px">450</text><text transform="matrix(1.13 0 0 1 1064.9152 1610.52)" font-family="'Liberation Serif', serif" style="font-size:48.00px;letter-spacing:2.39px">470</text><text transform="matrix(1.13 0 0 1 1277.4152 1610.52)" font-family="'Liberation Serif', serif" style="font-size:48.00px;letter-spacing:3.09px">490</text><text transform="matrix(1.13 0 0 1 1487.2452 1610.7052)" font-family="'Liberation Serif', serif" style="font-size:49.48px;letter-spacing:2.13px">510</text><text transform="matrix(1.13 0 0 1 1702.2452 1610.7052)" font-family="'Liberation Serif', serif" style="font-size:49.48px;letter-spacing:2.18px">530</text><text transform="matrix(1.12 0 0 1 715.5148 1675)" font-family="'Liberation Serif', serif" style="font-size:59.08px;letter-spacing:2.39px">Pyrolysis</text><text transform="matrix(1.12 0 0 1 1014.618 1674.1)" font-family="'Liberation Serif', serif" style="font-size:57.23px;letter-spacing:2.58px">Tmax</text><text transform="matrix(1.2894 0 0 1 1171.2561 1671.3909)" font-family="'Liberation Serif', 'Noto Serif CJK SC', serif" style="font-size:45.99px">（</text><text transform="matrix(0.8944 0 0 1 1248.0569 1672.9013)" font-family="'DejaVu Serif', 'Noto Serif CJK SC', serif" style="font-size:53.25px">℃</text><text transform="matrix(1.3657 0 0 1 1319.1175 1671.3909)" font-family="'Liberation Serif', 'Noto Serif CJK SC', serif" style="font-size:45.99px">）</text><text transform="matrix(0 -1 1.2 0 72.2 1293.5565)" font-family="'Liberation Serif', serif" style="font-size:55.22px;letter-spacing:2.96px;word-spacing:3.80px">Hydrogen Index</text><text transform="matrix(0 -1 1.2 0 73.5 850.8618)" font-family="'Liberation Serif', serif" style="font-size:54.71px;letter-spacing:2.73px;word-spacing:-4.00px">(HI;mg HC/g TOC)</text><text transform="matrix(0 -1 1.24 0 914.2 441.2552)" font-family="'Liberation Serif', serif" style="font-size:48.88px;letter-spacing:2.55px;word-spacing:6.30px">Oil Window</text><text transform="matrix(0 -1 1.2 0 1038 1200.8931)" font-family="'Liberation Serif', serif" style="font-size:47.33px;letter-spacing:3.06px;word-spacing:-4.50px">Condensate (wet gas)</text></g></svg>
</body></html>
